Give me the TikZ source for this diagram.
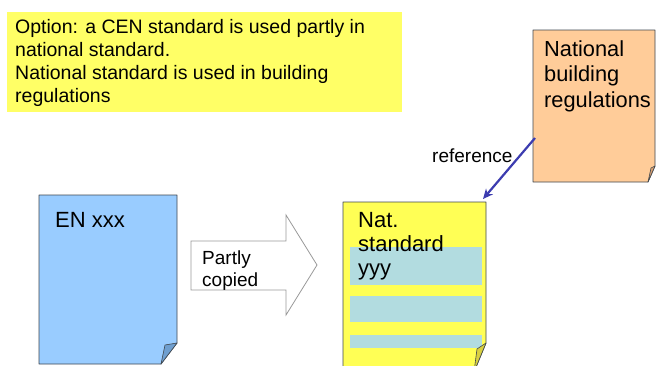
\documentclass[tikz,border=0pt]{standalone}
\usepackage{fontspec}
\setmainfont{Liberation Sans}
\usetikzlibrary{arrows.meta}
\definecolor{noteyellow}{HTML}{FFFF66}
\definecolor{docyellow}{HTML}{FFFF55}
\definecolor{docblue}{HTML}{99CCFF}
\definecolor{flapblue}{HTML}{6F9FD0}
\definecolor{docpeach}{HTML}{FFCC99}
\definecolor{flappeach}{HTML}{D9A070}
\definecolor{flapyellow}{HTML}{D8D040}
\definecolor{bandteal}{HTML}{B2DCE0}
\definecolor{refblue}{HTML}{3C3CB0}
\definecolor{outline}{HTML}{404850}
\tikzset{
  docbody/.style={draw=outline, line width=0.8pt, line join=round},
  docflap/.style={draw=outline, line width=0.6pt, line join=round},
  band/.style={fill=bandteal, draw=none},
  % multi-line labels are anchored at the baseline of their last line
  label/.style={anchor=base west, inner sep=0pt, align=left},
  bigtext/.style={label, font=\fontsize{22}{24}\selectfont},
  midtext/.style={label, font=\fontsize{19.5}{23}\selectfont},
  blockarrow/.style={draw=gray!80, fill=white, line width=0.8pt, line join=miter},
  refarrow/.style={draw=refblue, line width=2.2pt, -{Stealth[length=10pt,width=9pt]}},
}
\begin{document}
\begin{tikzpicture}[x=1pt, y=-1pt]
\useasboundingbox (0,0) rectangle (656,365);
\clip (0,0) rectangle (656,365);
\fill[white] (0,0) rectangle (656,365);

% explanatory note
\fill[noteyellow] (7,12) rectangle (402,112);
\node[midtext] (note) at (15,102) {Option: a CEN standard is used partly in\\national standard.\\National standard is used in building\\regulations};

% CEN document
\path[docbody, fill=docblue] (39,195) -- (177,195) -- (177,343) -- (161,364) -- (39,364) -- cycle;
\path[docflap, fill=flapblue] (177,343) -- (161,364) -- (165,345) -- cycle;
\node[bigtext] (en) at (55,227) {EN xxx};

% partly copied arrow
\path[blockarrow] (191,241) -- (286,241) -- (286,215) -- (317,265) -- (286,315) -- (286,290) -- (191,290) -- cycle;
\node[label, font=\fontsize{19}{22}\selectfont] (copied) at (202,286) {Partly\\copied};

% national standard
\path[docbody, fill=docyellow] (343,202) -- (486,202) -- (486,343) -- (474,372) -- (343,372) -- cycle;
\fill[band] (350,247) rectangle (482,285);
\fill[band] (350,296) rectangle (482,322);
\fill[band] (350,335) rectangle (482,348);
\path[docflap, fill=flapyellow] (486,343) -- (474,372) -- (477,349) -- cycle;
\node[bigtext] (nat) at (358,275) {Nat.\\standard\\yyy};

% national building regulations
\path[docbody, fill=docpeach] (533,30) -- (655,30) -- (655,166) -- (648,182) -- (533,182) -- cycle;
\path[docflap, fill=flappeach] (655,166) -- (648,182) -- (651,168) -- cycle;
\node[label, font=\fontsize{21.8}{25.5}\selectfont] (reg) at (544,107) {National\\building\\regulations};

% reference link
\coordinate (regedge) at (535,138);
\coordinate (natcorner) at (483,199);
\draw[refarrow] (regedge) -- (natcorner);
\node[label, font=\fontsize{19}{22}\selectfont] (ref) at (432,162) {reference};
\end{tikzpicture}
\end{document}
